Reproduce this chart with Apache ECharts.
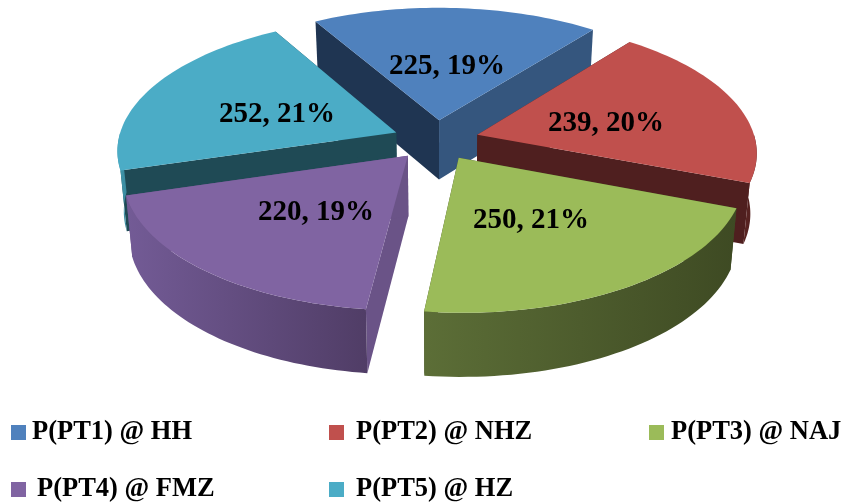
<!DOCTYPE html>
<html>
<head>
<meta charset="utf-8">
<style>html,body{margin:0;padding:0;background:#fff}#chart{width:844px;height:502px}</style>
<script src="https://cdn.jsdelivr.net/npm/echarts@6/dist/echarts.min.js"></script>
</head>
<body>
<div id="chart"></div>
<script>
// data
var categories = ['P(PT1) @ HH', 'P(PT2) @ NHZ', 'P(PT3) @ NAJ', 'P(PT4) @ FMZ', 'P(PT5) @ HZ'];
var values = [225, 239, 250, 220, 252];

// colours
var topColors = ['#4f81bd', '#c0504d', '#9bbb59', '#8064a2', '#4bacc6'];
var startSideColors = ['#1f3552', '#4f1f1f', '#3f4a23', '#6a5387', '#1f4a55'];
var endSideColors = ['#35567e', '#4f1f1f', '#3f4a23', '#6a5387', '#1f4a55'];
var rimLeftColors = ['#35567e', '#5a2422', '#5c6e37', '#735b96', '#4299ae'];
var rimRightColors = ['#35567e', '#4f1f1f', '#3e4a23', '#503d66', '#3a8a9e'];

// text anchors of the data labels, legend places (left, top, text inset)
var labelPlaces = [[447, 67], [606, 124], [531, 221], [316, 213], [277, 115]];
var legendPlaces = [[11, 419, 1], [329, 419, 7], [649, 419, 2], [11, 476, 6], [329, 476, 7]];

// pie projection
var cx = 436, cy = 140, rx = 278, ry = 131, persp = 0.125, explode = 0.155, depth = 60, startAngle = -30;
var lowScale = 0.98; // the underside is a bit narrower than the top

var total = values.reduce(function (a, b) { return a + b; }, 0);
var slices = [];
var acc = startAngle;
values.forEach(function (v, i) {
    var sweep = v / total * 360;
    slices.push({index: i, from: acc, to: acc + sweep, mid: acc + sweep / 2});
    acc += sweep;
});

function rad(d) { return d * Math.PI / 180; }

function project(u, v, drop) {
    var w = 1 - persp * v;
    return [
        cx + rx * u / w * (drop ? lowScale : 1),
        cy + ry * v / w + (drop ? depth * (1 + 0.06 * v) : 0)
    ];
}

function rimPoint(s, deg, r, drop) {
    var u = explode * Math.sin(rad(s.mid)) + r * Math.sin(rad(deg));
    var v = -explode * Math.cos(rad(s.mid)) - r * Math.cos(rad(deg));
    return project(u, v, drop);
}

function arcPoints(s, from, to, drop) {
    var pts = [];
    for (var i = 0; i <= 48; i++) {
        pts.push(rimPoint(s, from + (to - from) * i / 48, 1, drop));
    }
    return pts;
}

function poly(points, fill) {
    return {type: 'polygon', shape: {points: points}, style: {fill: fill}};
}

function drawSlice(s) {
    return function (params, api) {
        var i = s.index;
        var value = api.value(0);
        var apexTop = rimPoint(s, s.mid, 0, false);
        var apexLow = rimPoint(s, s.mid, 0, true);
        var top = arcPoints(s, s.from, s.to, false);
        var first = [top[0], rimPoint(s, s.from, 1, true)];
        var last = [top[48], rimPoint(s, s.to, 1, true)];
        var children = [
            poly([apexTop, first[0], first[1], apexLow], startSideColors[i]),
            poly([apexTop, last[0], last[1], apexLow], endSideColors[i])
        ];
        // only the part of the rim that faces the viewer
        var rimFrom = Math.max(s.from, 90);
        var rimTo = Math.min(s.to, 270);
        if (rimTo > rimFrom) {
            var rimFill = new echarts.graphic.LinearGradient(0, 0, 1, 0, [
                {offset: 0, color: rimLeftColors[i]},
                {offset: 1, color: rimRightColors[i]}
            ]);
            var rimTop = arcPoints(s, rimFrom, rimTo, false);
            var rimLow = arcPoints(s, rimFrom, rimTo, true);
            children.push(poly(rimTop.concat(rimLow.reverse()), rimFill));
        }
        children.push(poly([apexTop].concat(top), topColors[i]));
        children.push({
            type: 'text',
            z2: 10,
            style: {
                x: labelPlaces[i][0],
                y: labelPlaces[i][1],
                text: value + ', ' + Math.round(value / total * 100) + '%',
                fill: '#000',
                font: 'bold 29px "Liberation Serif"',
                align: 'center',
                verticalAlign: 'middle'
            }
        });
        return {type: 'group', children: children};
    };
}

// back to front
var order = slices.slice().sort(function (a, b) {
    return -Math.cos(rad(a.mid)) + Math.cos(rad(b.mid));
});

var chart = echarts.init(document.getElementById('chart'), null, {renderer: 'canvas'});
chart.setOption({
    animation: false,
    legend: categories.map(function (name, i) {
        return {
            data: [name],
            left: legendPlaces[i][0],
            top: legendPlaces[i][1],
            padding: 0,
            icon: 'rect',
            itemWidth: 15,
            itemHeight: 15,
            selectedMode: false,
            textStyle: {
                color: '#000',
                fontFamily: 'Liberation Serif',
                fontWeight: 'bold',
                fontSize: 26.5,
                padding: [0, 0, 0, legendPlaces[i][2]]
            }
        };
    }),
    series: order.map(function (s) {
        return {
            type: 'custom',
            name: categories[s.index],
            coordinateSystem: 'none',
            silent: true,
            itemStyle: {color: topColors[s.index]},
            renderItem: drawSlice(s),
            data: [[values[s.index]]]
        };
    })
});
</script>
</body>
</html>
